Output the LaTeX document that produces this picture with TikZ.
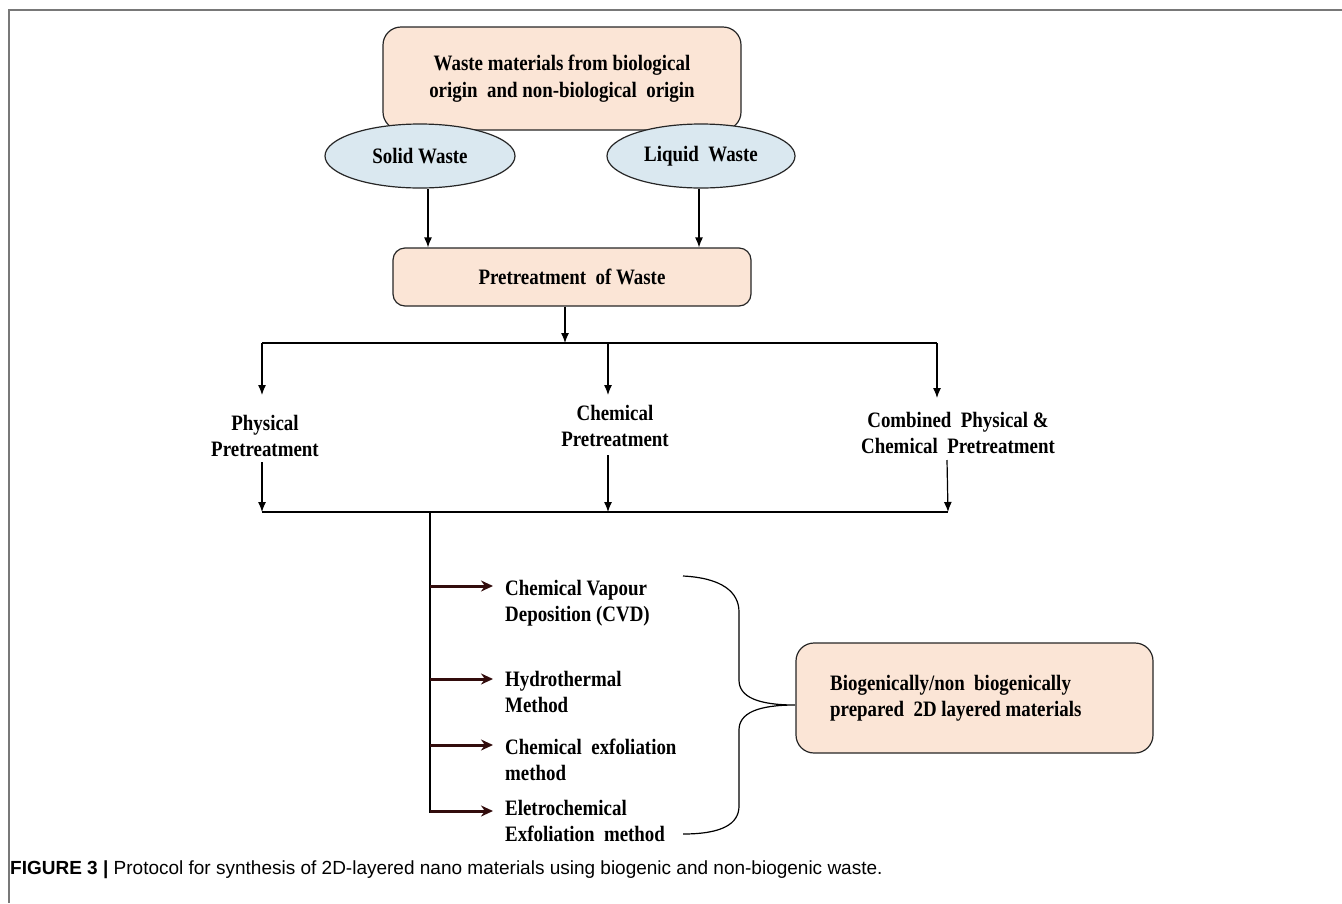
\documentclass[tikz,border=0pt]{standalone}
\usepackage{fontspec}
\setmainfont{Liberation Serif}[FakeStretch=0.86]
\newfontfamily\capfont{Liberation Sans}
\usetikzlibrary{arrows.meta,shapes.geometric}
\definecolor{peach}{RGB}{251,229,214}
\definecolor{lblue}{RGB}{218,232,240}
\definecolor{framegray}{RGB}{120,120,120}
\definecolor{darkmaroon}{RGB}{50,12,12}
\begin{document}
\begin{tikzpicture}[x=1pt,y=-1pt,
  txt/.style={font=\bfseries\fontsize{22}{26}\selectfont, inner sep=0pt},
  pbox/.style={draw=black!85, line width=1.2pt, fill=peach, rounded corners=18pt},
  oval/.style={ellipse, draw=black!85, line width=1.2pt, fill=lblue, inner sep=0pt},
  arr/.style={line width=1.2pt, -{Latex[length=10pt,width=8pt]}},
  marr/.style={darkmaroon, line width=3pt, -{Stealth[length=12pt,width=11pt]}},
  ln/.style={line width=1.2pt}
]
\useasboundingbox (0,0) rectangle (1342,903);
\draw[framegray, line width=1.5pt] (1342,10) -- (9,10) -- (9,903);

% top box and ellipses
\node[pbox, txt, minimum width=358pt, minimum height=103pt, align=center,
      font=\bfseries\fontsize{22}{27}\selectfont] (top) at (562,78.5)
  {Waste materials from biological\\origin\ \ and non-biological\ \ origin};
\node[oval, txt, minimum width=190pt, minimum height=64pt] (solid) at (420,156) {Solid Waste};
\node[oval, txt, minimum width=188pt, minimum height=64pt] (liquid) at (701,156) {Liquid\ \ Waste};

\node[pbox, txt, rounded corners=12pt, minimum width=358pt, minimum height=58pt] (pre) at (572,277) {Pretreatment\ \ of Waste};

\draw[arr] ([xshift=8pt]solid.south) -- ([xshift=8pt]solid.south |- pre.north);
\draw[arr] ([xshift=-2pt]liquid.south) -- ([xshift=-2pt]liquid.south |- pre.north);

% branch to three pretreatments
\coordinate (t1) at (262,343);
\coordinate (t2) at (608,343);
\coordinate (t3) at (937,343);
\draw[ln] (t1) -- (t3);
\draw[arr] ([xshift=-7pt]pre.south) -- ([xshift=-7pt]pre.south |- t1);

\node[txt, align=center] (phys) at (265,435.5) {Physical\\Pretreatment};
\node[txt, align=center] (chem) at (615,426) {Chemical\\Pretreatment};
\node[txt, align=center] (comb) at (958,433) {Combined\ \ Physical \&\\Chemical\ \ Pretreatment};

\draw[arr] (t1) -- ++(0,52);
\draw[arr] (t2) -- ++(0,52);
\draw[arr] (t3) -- ++(0,55);

\coordinate (b1) at (262,512);
\coordinate (b2) at (608,512);
\coordinate (b3) at (948,512);
\coordinate (bv) at (430,512);
\draw[ln] (b1) -- (b3);
\draw[arr] (262,462) -- (b1);
\draw[arr] (608,455) -- (b2);
\draw[arr] (947,460) -- (b3);

% methods
\coordinate (v1) at (430,586);
\coordinate (v2) at (430,679);
\coordinate (v3) at (430,745);
\coordinate (v4) at (430,811);
\draw[ln] (bv) -- ([yshift=-1.5pt]v4);
\node[txt, anchor=west, align=left] (cvd) at (505,603) {Chemical Vapour\\Deposition (CVD)};
\node[txt, anchor=west, align=left] (hyd) at (505,691.5) {Hydrothermal\\Method};
\node[txt, anchor=west, align=left] (cex) at (505,760) {Chemical\ \ exfoliation\\method};
\node[txt, anchor=west, align=left] (ecx) at (505,821) {Eletrochemical\\Exfoliation\ \ method};
\draw[marr] (v1) -- ++(63,0);
\draw[marr] (v2) -- ++(63,0);
\draw[marr] (v3) -- ++(63,0);
\draw[marr] (v4) -- ++(63,0);

% brace
\coordinate (tip) at (795,705);
\draw[ln] (683,576) .. controls (722,578) and (739,592) .. (739,612)
  -- (739,680) .. controls (739,697) and (758,705) .. (tip)
  .. controls (758,705) and (739,713) .. (739,730)
  -- (739,806) .. controls (739,824) and (722,834) .. (683,834);

% result box
\node[pbox, minimum width=357pt, minimum height=110pt] (res) at (974.5,698) {};
\node[txt, anchor=west, align=left] (restxt) at (830,698.5) {Biogenically/non\ \ biogenically\\prepared\ \ 2D layered materials};

% caption
\node[anchor=west, inner sep=0pt, font=\capfont\fontsize{19}{22}\selectfont] (cap) at (10,870)
  {\textbf{FIGURE 3 |} Protocol for synthesis of 2D-layered nano materials using biogenic and non-biogenic waste.};
\end{tikzpicture}
\end{document}
